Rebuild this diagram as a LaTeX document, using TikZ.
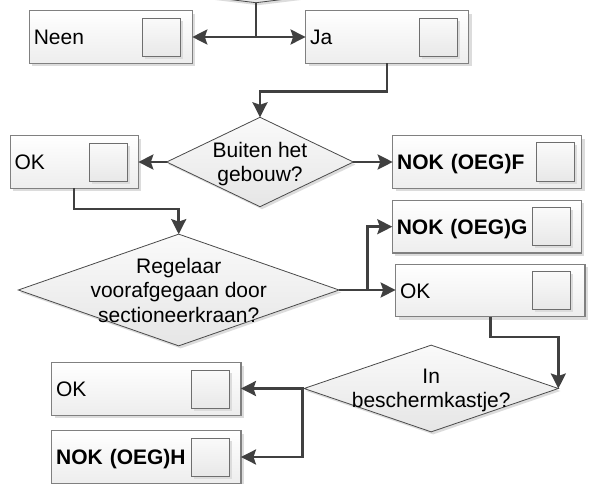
\documentclass[tikz,border=0pt]{standalone}
\usepackage{fontspec}
\setmainfont{Liberation Sans}
\usetikzlibrary{shapes.geometric,arrows.meta,shadows,calc}
\definecolor{wirec}{HTML}{404040}
\definecolor{framec}{HTML}{808080}
\definecolor{tickc}{HTML}{6E6E6E}
\definecolor{edgec}{HTML}{4A4A4A}
\definecolor{shadec}{HTML}{DCDCDC}
\tikzset{
  every node/.style={outer sep=0pt},
  lbl/.style={font=\fontsize{21}{24.5}\selectfont},
  card/.style={lbl, rectangle, draw=framec, line width=1.1pt,
    top color=white, bottom color=black!7,
    drop shadow={shadow xshift=3pt, shadow yshift=-3pt, fill=shadec, opacity=1},
    minimum height=52.6pt, inner xsep=4.5pt, inner ysep=0pt,
    text height=15pt, text depth=0pt, align=left, text width=#1},
  tickbox/.style={rectangle, draw=tickc, line width=1pt,
    top color=black!2, bottom color=black!9,
    drop shadow={shadow xshift=2.5pt, shadow yshift=-2.5pt, fill=shadec, opacity=1},
    minimum size=38pt, inner sep=0pt},
  question/.style n args={2}{diamond, draw=edgec, line width=0.8pt,
    top color=black!2, bottom color=black!10,
    drop shadow={shadow xshift=2pt, shadow yshift=-2.5pt, fill=shadec, opacity=1},
    minimum width=#1, minimum height=#2, inner sep=0pt},
  qtext/.style={lbl, align=center, inner sep=0pt, text depth=0pt},
  flow/.style={draw=wirec, line width=2.5pt,
    -{Stealth[length=15pt,width=15pt,inset=2.5pt]}},
}
\begin{document}
\begin{tikzpicture}[x=1pt,y=-1pt]
  \useasboundingbox (0,0) rectangle (589,484);
  \fill[white] (0,0) rectangle (589,484);

  % decision above the first pair of answers (only its lower tip shows)
  \begin{scope}
    \clip (0,0) rectangle (589,484);
    \node[question={700pt}{85.4pt}] (q0) at (256,-40) {};
  \end{scope}

  % answer cards
  \node[card=154pt]   (neen) at (110.8,37)   {Neen};
  \node[card=154pt]   (ja)   at (387.1,37)   {Ja};
  \node[card=119.3pt] (ok1)  at (74.2,162)   {OK};
  \node[card=180pt]   (nokF) at (487.2,162)  {\textbf{NOK (OEG)F}};
  \node[card=180pt]   (nokG) at (486.8,226.7){\textbf{NOK (OEG)G}};
  \node[card=180.3pt] (ok2)  at (490.3,290.5){OK};
  \node[card=180.3pt] (ok3)  at (146.3,388.8){OK};
  \node[card=180.3pt] (nokH) at (146.3,457)  {\textbf{NOK (OEG)H}};

  % check squares inside the cards
  \node[tickbox] (neen-t) at (161.7,37.5)  {};
  \node[tickbox] (ja-t)   at (438,37.5)    {};
  \node[tickbox] (ok1-t)  at (108.5,162.2) {};
  \node[tickbox] (nokF-t) at (555.3,162)   {};
  \node[tickbox] (nokG-t) at (551.5,226.2) {};
  \node[tickbox] (ok2-t)  at (551.5,290.5) {};
  \node[tickbox] (ok3-t)  at (210.8,389.2) {};
  \node[tickbox] (nokH-t) at (210.8,457)   {};

  % decisions
  \node[question={186.7pt}{89.4pt}]  (q1) at (260,162)     {};
  \node[question={320.7pt}{111.7pt}] (q2) at (178.7,290)   {};
  \node[question={254.3pt}{86.7pt}]  (q3) at (431.2,388.5) {};
  \node[qtext] (q1-l) at (q1.center) {Buiten het\\gebouw?};
  \node[qtext] (q2-l) at (q2.center) {Regelaar\\voorafgegaan door\\sectioneerkraan?};
  \node[qtext] (q3-l) at (q3.center) {In\\beschermkastje?};

  % connectors
  \draw[flow] (q0.south) |- (neen.east);
  \draw[flow] (q0.south) |- (ja.west);
  \draw[flow] (ja.south) -- ++(0,28.4) -| (q1.north);
  \draw[flow] (q1.west) -- (ok1.east);
  \draw[flow] (q1.east) -- (nokF.west);
  \draw[flow] (ok1.south) -- ++(0,20.7) -| (q2.north);
  \draw[flow] (q2.east) -- (q2.east -| ok2.west);
  \draw[flow] (q2.east) -- ++(28.3,0) |- (nokG.west);
  \draw[flow] (ok2.south) -- ++(0,20) -| (q3.east);
  \draw[flow] (q3.west) -- (q3.west -| ok3.east);
  \draw[flow] (q3.west) -- ++(-1.4,0) |- (nokH.east);
\end{tikzpicture}
\end{document}
